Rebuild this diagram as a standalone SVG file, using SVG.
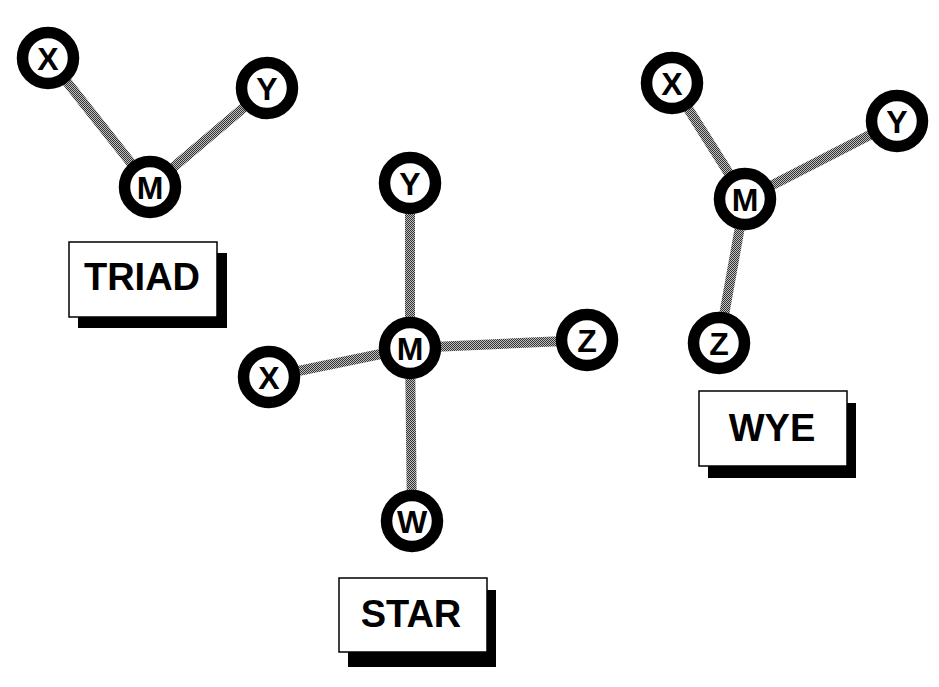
<svg xmlns="http://www.w3.org/2000/svg" width="939" height="687" viewBox="0 0 939 687">
<defs>
<pattern id="stip" width="2" height="2" patternUnits="userSpaceOnUse">
<rect width="2" height="2" fill="#c0c0c0"/>
<rect x="0" y="0" width="1" height="1" fill="#333"/>
<rect x="1" y="1" width="1" height="1" fill="#333"/>
</pattern>
</defs>
<style>
.edge{stroke:url(#stip);stroke-width:10;fill:none}
.ring{fill:#fff;stroke:#000;stroke-width:11.5}
.nl{font-family:"Liberation Sans",Arial,sans-serif;font-weight:bold;font-size:32px;text-anchor:middle;fill:#000}
.box{fill:#fff;stroke:#000;stroke-width:1.5}
.shadow{fill:#000}
.title{font-family:"Liberation Sans",Arial,sans-serif;font-weight:bold;font-size:38px;text-anchor:middle;fill:#000}
</style>
<rect width="939" height="687" fill="#fff"/>
<g id="connectors">
<line class="edge" x1="48" y1="58" x2="150" y2="187"/>
<line class="edge" x1="267" y1="88" x2="150" y2="187"/>
<line class="edge" x1="410" y1="183" x2="410" y2="348"/>
<line class="edge" x1="410" y1="348" x2="587" y2="340"/>
<line class="edge" x1="410" y1="348" x2="269" y2="377"/>
<line class="edge" x1="410" y1="348" x2="412" y2="521"/>
<line class="edge" x1="672" y1="83" x2="745" y2="199"/>
<line class="edge" x1="897" y1="121" x2="745" y2="199"/>
<line class="edge" x1="719" y1="343" x2="745" y2="199"/>
</g>
<g id="triad-x"><circle class="ring" cx="48" cy="58" r="25.5"/><text class="nl" x="48" y="69.5">X</text></g>
<g id="triad-y"><circle class="ring" cx="267" cy="88" r="25.5"/><text class="nl" x="267" y="99.5">Y</text></g>
<g id="triad-m"><circle class="ring" cx="150" cy="187" r="25.5"/><text class="nl" x="150" y="198.5">M</text></g>
<g id="triad-label"><rect class="shadow" x="78" y="253" width="149" height="75"/><rect class="box" x="69" y="242" width="148" height="75"/><text class="title" x="142" y="290">TRIAD</text></g>
<g id="star-y"><circle class="ring" cx="410" cy="183" r="25.5"/><text class="nl" x="410" y="194.5">Y</text></g>
<g id="star-m"><circle class="ring" cx="410" cy="348" r="25.5"/><text class="nl" x="410" y="359.5">M</text></g>
<g id="star-z"><circle class="ring" cx="587" cy="340" r="25.5"/><text class="nl" x="587" y="351.5">Z</text></g>
<g id="star-x"><circle class="ring" cx="269" cy="377" r="25.5"/><text class="nl" x="269" y="388.5">X</text></g>
<g id="star-w"><circle class="ring" cx="412" cy="521" r="25.5"/><text class="nl" x="412" y="532.5">W</text></g>
<g id="star-label"><rect class="shadow" x="348" y="590" width="148" height="77"/><rect class="box" x="339" y="578" width="148" height="74"/><text class="title" x="411" y="627">STAR</text></g>
<g id="wye-x"><circle class="ring" cx="672" cy="83" r="25.5"/><text class="nl" x="672" y="94.5">X</text></g>
<g id="wye-y"><circle class="ring" cx="897" cy="121" r="25.5"/><text class="nl" x="897" y="132.5">Y</text></g>
<g id="wye-m"><circle class="ring" cx="745" cy="199" r="25.5"/><text class="nl" x="745" y="210.5">M</text></g>
<g id="wye-z"><circle class="ring" cx="719" cy="343" r="25.5"/><text class="nl" x="719" y="354.5">Z</text></g>
<g id="wye-label"><rect class="shadow" x="708" y="403" width="148" height="75"/><rect class="box" x="699" y="391" width="148" height="75"/><text class="title" x="772" y="441">WYE</text></g>
</svg>
